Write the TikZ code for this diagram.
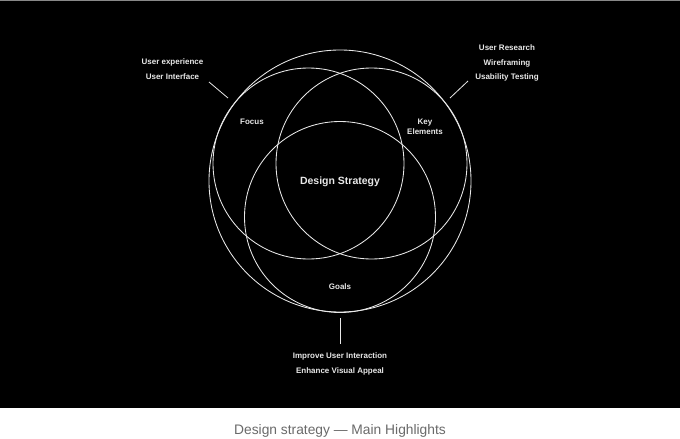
\documentclass[tikz,border=0pt]{standalone}
\usepackage{fontspec}
\setmainfont{Liberation Sans}
\definecolor{ink}{HTML}{E8E8E8}
\definecolor{cap}{HTML}{6A6A6A}
\begin{document}
\begin{tikzpicture}[x=1pt,y=-1pt,
  ring/.style={draw=ink, line width=0.85pt, circle, inner sep=0pt, fill=none},
  lbl/.style={text=ink, font=\bfseries\fontsize{8}{9}\selectfont, inner sep=0pt, anchor=center},
  big/.style={text=ink, font=\bfseries\fontsize{10.5}{12}\selectfont, inner sep=0pt},
  lead/.style={draw=ink, line width=0.8pt}]
\useasboundingbox (0,0) rectangle (680,439);
\fill[black] (0,0) rectangle (680,408);
\fill[white] (0,408) rectangle (680,439);
\fill[cap!80] (0,0) rectangle (680,1);
% circles
\node[ring, minimum size=262pt] (outer) at (340,181) {};
\node[ring, minimum size=191pt] (left) at (308.5,163.5) {};
\node[ring, minimum size=191pt] (right) at (371.5,163.5) {};
\node[ring, minimum size=191pt] (bottom) at (340,217) {};
% inner labels
\node[big] (ds) at (340,182) {Design Strategy};
\node[lbl] (focus) at (252,122) {Focus};
\node[lbl] (key) at (425,122.5) {Key};
\node[lbl] (elem) at (425,131.5) {Elements};
\node[lbl] (goals) at (340,287) {Goals};
% outer labels left
\node[lbl] (ux) at (172.5,62) {User experience};
\node[lbl] (ui) at (172.5,76.5) {User Interface};
\coordinate (l1) at (209,82);
\coordinate (l2) at (228,98);
\draw[lead] (l1) -- (l2);
% outer labels right
\node[lbl] (ur) at (507,48) {User Research};
\node[lbl] (wf) at (507,63) {Wireframing};
\node[lbl] (ut) at (507,77.5) {Usability Testing};
\coordinate (r1) at (468,81);
\coordinate (r2) at (450,98);
\draw[lead] (r1) -- (r2);
% bottom labels
\coordinate (b1) at (340,318);
\coordinate (b2) at (340,344);
\draw[lead] (b1) -- (b2);
\node[lbl] (imp) at (340,356) {Improve User Interaction};
\node[lbl] (enh) at (340,371) {Enhance Visual Appeal};
% caption
\node[text=cap, font=\fontsize{13.8}{15}\selectfont, inner sep=0pt] (caption) at (340,431) {Design strategy — Main Highlights};
\end{tikzpicture}
\end{document}
